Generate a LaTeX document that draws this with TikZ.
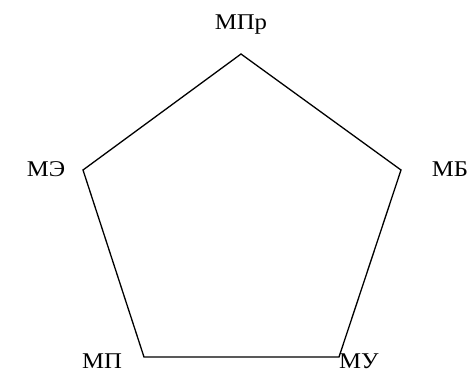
\documentclass[tikz,border=0pt]{standalone}
\usepackage{fontspec}
\setmainfont{Liberation Serif}
\newfontfamily\lblfont[FakeStretch=1.1]{Liberation Serif}
\begin{document}
\begin{tikzpicture}[x=1pt,y=-1pt,
  lbl/.style={inner sep=0pt,anchor=base,font=\lblfont\fontsize{22.5}{25}\selectfont},
  edge/.style={draw=black,line width=1.3pt,line join=miter}]
\useasboundingbox (0,0) rectangle (472,373);
\coordinate (T) at (241,54);
\coordinate (R) at (401,170);
\coordinate (BR) at (339,357);
\coordinate (BL) at (144,357);
\coordinate (L) at (83,170);
\draw[edge] (T) -- (R) -- (BR) -- (BL) -- (L) -- cycle;
\node[lbl] (mpr) at (241,29) {МПр};
\node[lbl] (me) at (46,176) {МЭ};
\node[lbl] (mb) at (450,176) {МБ};
\node[lbl] (mp) at (102,368) {МП};
\node[lbl] (mu) at (359,368) {МУ};
\end{tikzpicture}
\end{document}
